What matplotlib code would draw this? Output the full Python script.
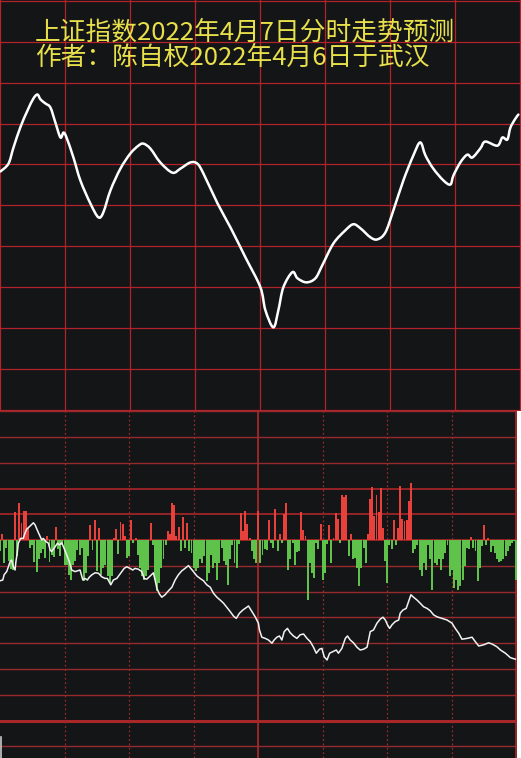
import matplotlib
matplotlib.use("Agg")
import matplotlib.pyplot as plt
from matplotlib.lines import Line2D
from matplotlib.path import Path
from matplotlib.patches import PathPatch

plt.rcParams['font.family'] = ['Noto Sans CJK SC', 'DejaVu Sans']

title1 = "上证指数2022年4月7日分时走势预测"
title2 = "作者：陈自权2022年4月6日于武汉"

# forecast curve (top panel): minute of session, index level
fc_min = [0, 3.7, 6.0, 9.2, 12.5, 15.2, 17.1, 18.5, 20.8, 23.1, 25.4, 27.7, 29.1, 30.5,
          33.7, 36.9, 41.5, 45.2, 47.5, 50.8, 55.4, 60.0, 63.7, 66.0, 69.2, 73.8, 79.4,
          83.1, 87.7, 90.9, 93.7, 100.2, 106.2, 113.1, 120.0, 122.3, 126.0, 128.3, 130.6,
          134.8, 137.1, 141.2, 145.4, 148.6, 153.7, 159.2, 162.9, 166.2, 170.8, 174.0,
          177.7, 181.4, 186.0, 190.6, 193.8, 196.2, 199.8, 204.5, 207.7, 209.1, 212.3,
          215.5, 217.8, 221.5, 223.8, 229.4, 231.7, 234.0, 235.4, 237.7, 239.1]
fc_val = [3258.3, 3260.2, 3264.1, 3269.1, 3273.2, 3276.1, 3277.1, 3275.9, 3274.9, 3273.9,
          3270.2, 3266.6, 3267.8, 3266.6, 3261.7, 3256.1, 3250.5, 3247.1, 3248.3, 3253.7,
          3259.0, 3262.7, 3264.6, 3265.1, 3263.9, 3260.5, 3258.0, 3259.0, 3260.5, 3260.2,
          3257.8, 3250.5, 3244.6, 3237.3, 3230.0, 3224.4, 3220.2, 3224.4, 3230.0, 3233.7,
          3232.2, 3231.2, 3232.2, 3235.4, 3240.7, 3243.9, 3245.4, 3244.4, 3242.2, 3241.7,
          3243.4, 3248.8, 3256.1, 3262.2, 3265.4, 3262.2, 3259.0, 3256.1, 3255.1, 3257.3,
          3260.5, 3262.4, 3261.7, 3263.9, 3265.6, 3264.6, 3266.6, 3266.1, 3269.0, 3271.2,
          3272.2]

# bottom panel: per-minute bars (0..240), red up / green down
bars = [-43, 22, -88, -30, -82, -110, -117, 110, -60, 143,
        68, 113, 113, 48, -30, -20, -86, -125, -75, -50,
        -36, -69, 15, -86, -56, -65, 52, -36, -62, -20,
        -95, -95, -134, -153, -95, -82, -40, -56, -30, -160,
        -127, -62, 57, -40, 78, -121, 48, -134, -108, -95,
        -140, -166, -140, 10, 44, -52, 70, 63, 15, -69,
        -62, 78, -10, 10, -56, -108, -140, -153, -140, -114,
        68, -20, -153, -199, -166, -108, -75, -17, 35, 22,
        143, 135, 15, 52, -43, 91, -30, 68, -43, -49,
        -108, -121, -108, -75, -88, -62, -160, -127, -56, -108,
        -88, -153, -88, -30, -82, -95, -173, -75, -20, -88,
        -108, -15, 106, 35, 115, 61, 10, -43, -75, -88,
        113, -88, -56, -36, -39, 78, -10, -30, 119, -43,
        22, -10, 100, 143, -114, -75, -10, -95, -47, -43,
        110, 39, 15, -231, -88, -127, -147, -10, -36, 61,
        -153, -127, -15, 57, -88, 10, 104, 81, -10, 174,
        169, 174, -62, 22, -75, -69, -108, -179, -108, -30,
        -88, 22, 158, 208, 94, 174, 110, 204, 48, -82,
        -166, -20, -36, 78, -17, 48, 210, 83, 74, 78,
        152, 221, -49, -36, -20, -114, -138, -88, -114, -20,
        -75, -192, -88, -95, -75, -114, -75, -49, -20, -140,
        -114, -186, -153, -192, -179, -153, -101, -30, -36, 13,
        -30, -43, -160, -108, -23, 57, -17, 10, -47, -23,
        -49, -75, -86, -82, -73, -60, -43, -23, -10, -5,
        -153]

# bottom panel: actual price line
px_min = [0, 1.3, 1.9, 3.1, 3.9, 4.7, 5.4, 6.2, 7.0, 7.4, 8.0, 8.5, 9.6, 10.8, 11.6, 12.4,
          14.0, 15.5, 16.3, 17.3, 18.3, 19.4, 20.1, 21.4, 22.5, 23.3, 24.0, 25.6, 26.7, 27.6,
          28.7, 29.8, 31.0, 32.2, 33.3, 34.9, 37.2, 38.5, 39.5, 40.6, 41.5, 42.7, 44.2, 45.7,
          47.3, 48.8, 49.9, 51.5, 52.7, 54.3, 56.1, 57.7, 58.9, 60.5, 61.7, 62.8, 64.3, 65.9,
          67.0, 68.2, 69.8, 71.3, 72.1, 72.9, 74.1, 75.2, 76.7, 78.3, 79.9, 81.4, 82.9, 84.5,
          86.0, 87.6, 88.7, 89.9, 91.5, 93.0, 94.6, 96.1, 97.7, 99.2, 100.8, 102.3, 103.9,
          105.4, 107.0, 108.5, 109.8, 111.3, 112.9, 115.5, 117.1, 118.6, 120.1, 120.6, 121.7,
          123.3, 124.8, 126.4, 127.4, 128.7, 129.9, 131.0, 132.1, 133.6, 134.9, 136.4, 138.0,
          139.5, 141.1, 142.7, 144.2, 145.7, 147.0, 148.5, 149.6, 150.7, 152.0, 153.2, 154.7,
          156.3, 157.3, 158.9, 160.5, 161.5, 162.8, 164.3, 165.9, 167.4, 169.0, 170.6, 171.3,
          172.1, 173.6, 175.2, 176.7, 178.0, 179.1, 180.1, 181.1, 182.2, 183.7, 185.3, 186.0,
          187.3, 188.8, 189.9, 191.0, 192.2, 193.8, 195.3, 196.9, 198.5, 200.0, 201.5, 203.1,
          205.4, 207.8, 210.1, 211.6, 213.2, 214.7, 217.1, 219.4, 220.9, 222.5, 224.8, 227.1,
          228.7, 231.0, 232.6, 234.9, 237.2, 239.5]
px_val = [3254.8, 3255.0, 3256.3, 3257.1, 3258.3, 3259.6, 3260.0, 3258.3, 3257.5, 3259.6,
          3261.7, 3264.2, 3265.4, 3265.4, 3266.7, 3267.7, 3268.5, 3269.3, 3268.8, 3267.5,
          3266.3, 3265.0, 3265.4, 3264.6, 3264.2, 3262.5, 3262.1, 3263.3, 3264.2, 3263.8,
          3264.3, 3262.9, 3261.3, 3259.6, 3257.5, 3257.1, 3257.5, 3255.0, 3255.4, 3255.0,
          3255.7, 3256.3, 3256.8, 3256.7, 3255.8, 3255.4, 3255.4, 3253.8, 3255.0, 3255.4,
          3256.7, 3257.9, 3258.3, 3257.9, 3257.5, 3257.9, 3257.7, 3257.1, 3255.4, 3255.2,
          3256.0, 3256.8, 3255.0, 3252.9, 3251.5, 3250.7, 3251.3, 3252.3, 3253.2, 3255.0,
          3256.3, 3257.3, 3257.9, 3258.6, 3257.9, 3257.1, 3256.0, 3255.4, 3254.8, 3253.8,
          3253.2, 3251.7, 3250.7, 3250.0, 3249.2, 3248.2, 3247.1, 3246.0, 3245.4, 3246.7,
          3247.5, 3248.5, 3247.1, 3245.8, 3244.2, 3242.5, 3240.7, 3240.4, 3240.0, 3239.2,
          3240.0, 3240.7, 3241.0, 3240.0, 3242.1, 3242.9, 3241.8, 3241.0, 3240.4, 3241.3,
          3241.5, 3240.4, 3239.6, 3238.2, 3236.7, 3237.7, 3237.9, 3235.8, 3235.0, 3236.7,
          3237.1, 3237.5, 3236.7, 3237.9, 3240.4, 3241.0, 3240.0, 3239.3, 3238.2, 3237.5,
          3237.7, 3238.2, 3240.0, 3242.1, 3242.5, 3244.2, 3245.2, 3245.7, 3245.0, 3243.8,
          3242.9, 3243.8, 3244.6, 3245.0, 3246.7, 3247.5, 3247.9, 3249.6, 3251.3, 3250.7,
          3250.0, 3249.2, 3248.3, 3247.9, 3247.3, 3246.3, 3245.8, 3245.4, 3245.0, 3244.2,
          3242.9, 3241.7, 3240.2, 3240.4, 3240.7, 3239.6, 3238.5, 3238.8, 3239.3, 3239.0,
          3238.3, 3237.5, 3236.7, 3235.6, 3235.2]

bg = '#141517'
grid_red = '#b3242a'
dark_red = '#962a2c'


def smooth_path(xs, ys):
    # Catmull-Rom through the read points, drawn as cubic Bezier segments
    pts = list(zip(xs, ys))
    verts = [pts[0]]
    codes = [Path.MOVETO]
    n = len(pts)
    for i in range(n - 1):
        p0 = pts[max(i - 1, 0)]
        p1 = pts[i]
        p2 = pts[i + 1]
        p3 = pts[min(i + 2, n - 1)]
        c1 = (p1[0] + (p2[0] - p0[0]) / 6, p1[1] + (p2[1] - p0[1]) / 6)
        c2 = (p2[0] - (p3[0] - p1[0]) / 6, p2[1] - (p3[1] - p1[1]) / 6)
        verts += [c1, c2, p2]
        codes += [Path.CURVE4] * 3
    return Path(verts, codes)


fig = plt.figure(figsize=(5.21, 7.58), dpi=100, facecolor='white')

# ---- top panel
ax1 = fig.add_axes([0, 347 / 758, 1, 411 / 758])
ax1.set_facecolor(bg)
ax1.set_xlim(-0.2, 240.3)
ax1.set_ylim(3199.76, 3300.2)
for v in range(3200, 3301, 10):
    ax1.axhline(v, color=grid_red, lw=0.9, zorder=1)
for m in range(0, 241, 30):
    ax1.axvline(m, color=grid_red, lw=0.9, zorder=1)
ax1.add_patch(PathPatch(smooth_path(fc_min, fc_val), facecolor='none', edgecolor='white',
                        lw=1.8, capstyle='round', joinstyle='round', zorder=3))
ax1.set_xticks([])
ax1.set_yticks([])
for s in ax1.spines.values():
    s.set_visible(False)

# ---- bottom panel
ax2 = fig.add_axes([0, 0, 517 / 521, 347 / 758])
ax2.set_facecolor(bg)
ax2.set_xlim(0, 240.3)
ax2.set_ylim(-845, 501)
for v in range(500, -801, -100):
    if v == -700:
        ax2.axhline(v, color='#a8282a', lw=2.2, zorder=1)
    elif v in (200, 100, 0):
        ax2.axhline(v, color='#b8282b', lw=1.1, zorder=1)
    else:
        ax2.axhline(v, color=dark_red, lw=1.0, zorder=1)
for m in [30, 60, 90, 150, 180, 210]:
    ax2.axvline(m, color=dark_red, lw=0.9, dashes=(1.5, 2.0), zorder=1)
for m in [120, 240]:
    ax2.axvline(m, color='#a02a2c', lw=1.3, zorder=1)

minutes = list(range(len(bars)))
colors = ['#e8413b' if b > 0 else '#5fc24a' for b in bars]
ax2.bar(minutes, bars, width=0.9, color=colors, linewidth=0, zorder=2)

ax3 = ax2.twinx()
ax3.set_ylim(3210.5, 3297.25)
ax3.plot(px_min, px_val, color='#f2f2f2', lw=1.1, zorder=3)

for a in (ax2, ax3):
    a.set_xticks([])
    a.set_yticks([])
    for s in a.spines.values():
        s.set_visible(False)

fig.add_artist(Line2D([0.8 / 521, 0.8 / 521], [0, 21 / 758], color='#c8c8c8', lw=1.2))

fig.text(35 / 521, 1 - 33 / 758, title1, color='#e8e04a', fontsize=18.5, va='center', ha='left')
fig.text(35 / 521, 1 - 58 / 758, title2, color='#e8e04a', fontsize=18.5, va='center', ha='left')

fig.savefig('out.png', dpi=100, facecolor=fig.get_facecolor())
